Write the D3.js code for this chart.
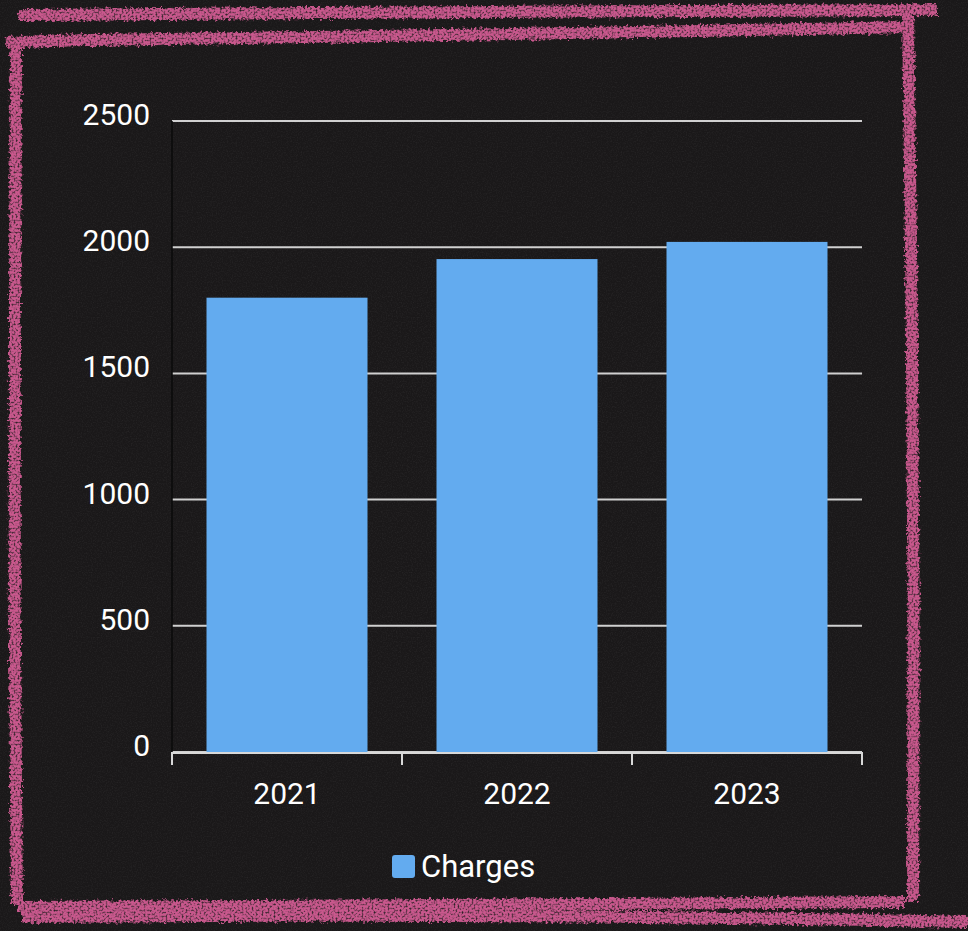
<!DOCTYPE html>
<html><head><meta charset="utf-8">
<script src="https://cdn.jsdelivr.net/npm/d3@7"></script>
<style>html,body{margin:0;padding:0;background:#1c1a1b;}svg{display:block;}</style>
</head><body>
<svg id="chart" width="968" height="931"></svg>
<script>
const categories = ["2021", "2022", "2023"];
const seriesName = "Charges";
const chargesValues = [1800, 1953, 2021];
const yTickValues = [0, 500, 1000, 1500, 2000, 2500];

const W = 968, H = 931;
const svg = d3.select("#chart");
const defs = svg.append("defs");

// chalk texture filter
const chalk = defs.append("filter").attr("id","chalk").attr("x","-5%").attr("y","-5%").attr("width","110%").attr("height","110%");
chalk.append("feTurbulence").attr("type","fractalNoise").attr("baseFrequency","0.35").attr("numOctaves","2").attr("seed","3").attr("result","n");
chalk.append("feDisplacementMap").attr("in","SourceGraphic").attr("in2","n").attr("scale","7").attr("result","d");
chalk.append("feTurbulence").attr("type","fractalNoise").attr("baseFrequency","0.5").attr("numOctaves","2").attr("seed","7").attr("result","n2");
chalk.append("feColorMatrix").attr("in","n2").attr("type","matrix").attr("values","0 0 0 0 0  0 0 0 0 0  0 0 0 0 0  0 0 0 2.5 -0.35").attr("result","m");
chalk.append("feComposite").attr("in","d").attr("in2","m").attr("operator","in");

// board noise
const bn = defs.append("filter").attr("id","board").attr("x","0").attr("y","0").attr("width","100%").attr("height","100%");
bn.append("feTurbulence").attr("type","fractalNoise").attr("baseFrequency","0.8").attr("numOctaves","2").attr("seed","11").attr("result","t");
bn.append("feColorMatrix").attr("in","t").attr("type","matrix").attr("values","0 0 0 0 0.5  0 0 0 0 0.5  0 0 0 0 0.5  0 0 0 0.9 -0.38");

svg.append("rect").attr("width",W).attr("height",H).attr("fill","#1a1819");
svg.append("rect").attr("width",W).attr("height",H).attr("fill","#fff").attr("filter","url(#board)").attr("opacity",0.18);

// chalk frame
const frameLines = [
  [[18,15],[300,13],[640,11],[937,10]],
  [[6,43],[60,40],[400,36],[700,31],[908,27]],
  [[16,44],[15,300],[14,600],[17,905]],
  [[908,12],[912,300],[914,600],[913,902]],
  [[18,907],[300,906],[600,904],[905,902]],
  [[22,917],[300,915],[600,916],[900,920],[968,922]]
];
const line = d3.line().curve(d3.curveBasis);
svg.append("g").attr("filter","url(#chalk)").selectAll("path").data(frameLines).join("path")
  .attr("d", line).attr("fill","none").attr("stroke","#c9588d").attr("stroke-width",12).attr("stroke-linecap","butt");

const m = {left:172, right:862, top:121, bottom:752};
const x = d3.scaleBand().domain(categories).range([m.left, m.right]).paddingInner(0.3).paddingOuter(0.15);
const y = d3.scaleLinear().domain([0,2500]).range([m.bottom, m.top]);

// gridlines
svg.append("g").selectAll("line").data(yTickValues).join("line")
  .attr("x1", m.left).attr("x2", m.right).attr("y1", d=>y(d)).attr("y2", d=>y(d))
  .attr("stroke","#d0d0d0").attr("stroke-width",2);

// y axis line
svg.append("line").attr("x1",m.left).attr("x2",m.left).attr("y1",m.top).attr("y2",m.bottom).attr("stroke","#0a0a0a").attr("stroke-width",1.5);

// y labels
svg.append("g").selectAll("text").data(yTickValues).join("text")
  .attr("x", 150).attr("y", d=>y(d)+4).attr("text-anchor","end")
  .attr("font-family","Roboto").attr("font-size",30).attr("fill","#fff").text(d=>d);

// bars
svg.append("g").selectAll("rect").data(chargesValues).join("rect")
  .attr("x",(d,i)=>x(categories[i])).attr("width",x.bandwidth())
  .attr("y",d=>y(d)).attr("height",d=>y(0)-y(d)).attr("fill","#63abef");

// x axis
const bounds = [m.left, ...categories.slice(1).map(c=>x(c)-x.step()*x.paddingInner()/2), m.right];
const xg = svg.append("g");
xg.append("line").attr("x1",m.left).attr("x2",m.right).attr("y1",m.bottom+1).attr("y2",m.bottom+1).attr("stroke","#d8d8d8").attr("stroke-width",2);
xg.selectAll(".tk").data(bounds).join("line").attr("class","tk")
  .attr("x1",d=>d).attr("x2",d=>d).attr("y1",m.bottom).attr("y2",m.bottom+13)
  .attr("stroke","#d8d8d8").attr("stroke-width",2);
xg.selectAll("text").data(categories).join("text")
  .attr("x",d=>x(d)+x.bandwidth()/2).attr("y",804).attr("text-anchor","middle")
  .attr("font-family","Roboto").attr("font-size",30).attr("fill","#fff").text(d=>d);

// legend
const lg = svg.append("g");
lg.append("rect").attr("x",392).attr("y",855).attr("width",23).attr("height",23).attr("rx",3).attr("fill","#63abef");
lg.append("text").attr("x",421).attr("y",877).attr("font-family","Roboto").attr("font-size",31).attr("fill","#fff").text(seriesName);
</script>
</body></html>
